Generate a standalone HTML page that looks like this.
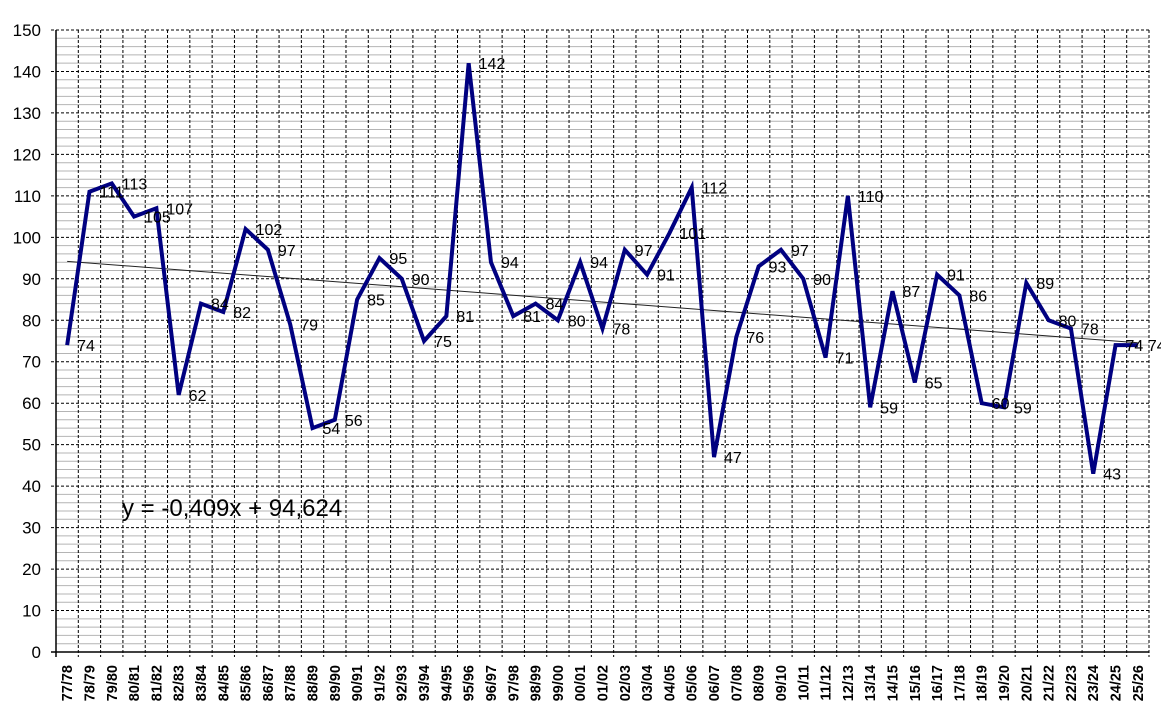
<!DOCTYPE html>
<html><head><meta charset="utf-8"><style>
body{margin:0;background:#fff;font-family:"Liberation Sans",Arial,sans-serif}
svg{display:block}
</style></head><body>
<svg id="chart" width="1161" height="722" xmlns="http://www.w3.org/2000/svg" font-family="Liberation Sans, Arial, sans-serif"></svg>
<script>
const categories=["77/78","78/79","79/80","80/81","81/82","82/83","83/84","84/85","85/86","86/87","87/88","88/89","89/90","90/91","91/92","92/93","93/94","94/95","95/96","96/97","97/98","98/99","99/00","00/01","01/02","02/03","03/04","04/05","05/06","06/07","07/08","08/09","09/10","10/11","11/12","12/13","13/14","14/15","15/16","16/17","17/18","18/19","19/20","20/21","21/22","22/23","23/24","24/25","25/26"];
const values=[74,111,113,105,107,62,84,82,102,97,79,54,56,85,95,90,75,81,142,94,81,84,80,94,78,97,91,101,112,47,76,93,97,90,71,110,59,87,65,91,86,60,59,89,80,78,43,74,74];
const yTicks=[0,10,20,30,40,50,60,70,80,90,100,110,120,130,140,150];
const trendSlope=-0.409, trendIntercept=94.624;

const NS="http://www.w3.org/2000/svg";
const svg=document.getElementById('chart');
const L=56,R=1149,T=30,B=652,yMax=150;
const step=(R-L)/categories.length;
const xs=i=>L+step*(i+0.5);
const ys=v=>B-(v/yMax)*(B-T);
function mk(tag,a,parent){const e=document.createElementNS(NS,tag);for(const k in a)e.setAttribute(k,a[k]);(parent||svg).appendChild(e);return e;}

const grid=mk('g',{});


for(let v=0;v<=yMax;v+=2){
  if(v%10===0)continue;
  const l=mk('line',{x1:L,x2:R,y1:ys(v),y2:ys(v),stroke:'#b4b4b4','stroke-width':1},grid);
  
  
}
yTicks.forEach(v=>{
  if(v===0)return;
  const l=mk('line',{x1:L-5,x2:R,y1:ys(v),y2:ys(v),stroke:'#000','stroke-width':1,'stroke-dasharray':'3,2'},grid);
  
  
});
for(let i=1;i<=categories.length;i++){
  const x=L+step*i;
  const l=mk('line',{x1:x,x2:x,y1:T,y2:B+5,stroke:'#000','stroke-width':1,'stroke-dasharray':'3,2'},grid);
  
  
}
const ax=mk('line',{x1:L,x2:L,y1:T,y2:B+5,stroke:'#000','stroke-width':1.5});


const bx=mk('line',{x1:L-5,x2:R,y1:B,y2:B,stroke:'#000','stroke-width':1.5});



yTicks.forEach(v=>{
  const t=mk('text',{x:41,y:ys(v)+6,'text-anchor':'end','font-size':17,fill:'#000'});
  t.textContent=v;
  
  
});
categories.forEach((c,i)=>{
  const x=xs(i)+5;
  const t=mk('text',{x:x,y:665,'text-anchor':'end','font-size':14.5,'font-weight':'bold',fill:'#000',transform:`rotate(-90 ${x} 665)`});
  t.textContent=c;
  
  
});

const tr=mk('line',{x1:xs(0),y1:ys(trendSlope*1+trendIntercept),x2:xs(categories.length-1),y2:ys(trendSlope*categories.length+trendIntercept),stroke:'#222','stroke-width':1});



const pts=values.map((v,i)=>xs(i)+','+ys(v)).join(' ');
const pl=mk('polyline',{points:pts,fill:'none',stroke:'#000080','stroke-width':4,'stroke-linejoin':'miter'});



values.forEach((v,i)=>{
  const t=mk('text',{x:xs(i)+10,y:ys(v)+6,'font-size':16,fill:'#000'});
  t.textContent=v;
  
  
});

const eq=mk('text',{x:122,y:516,'font-size':24,fill:'#000'});
eq.textContent='y = -0,409x + 94,624';


</script>
</body></html>
